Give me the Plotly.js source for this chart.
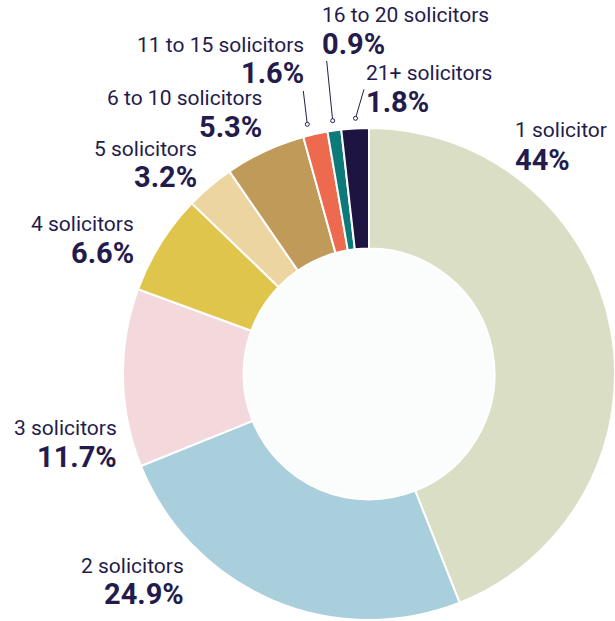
<!DOCTYPE html>
<html>
<head>
<meta charset="utf-8">
<script src="https://cdn.plot.ly/plotly-3.0.1.min.js"></script>
<style>html,body{margin:0;padding:0;background:#fff}#chart{width:615px;height:621px}</style>
</head>
<body>
<div id="chart"></div>
<script>
// ---- data ----
const categories = ["1 solicitor","2 solicitors","3 solicitors","4 solicitors","5 solicitors","6 to 10 solicitors","11 to 15 solicitors","16 to 20 solicitors","21+ solicitors"];
const shares = [44, 24.9, 11.7, 6.6, 3.2, 5.3, 1.6, 0.9, 1.8];
const sliceColors = ["#dadec4","#a9cedc","#f3d8dc","#e0c54d","#ecd5a1","#c09a58","#ee6a4e","#0d7a7a","#1e1442"];

// ---- label layout (pixel positions: anchor x, side, name baseline, value baseline) ----
const W = 615, H = 621;
const labelPos = [
  {x:516, a:"left",  b1:138, b2:170},
  {x:183, a:"right", b1:574, b2:604},
  {x:116, a:"right", b1:436, b2:467},
  {x:133, a:"right", b1:232, b2:263},
  {x:196, a:"right", b1:157, b2:187},
  {x:261, a:"right", b1:106, b2:137},
  {x:303, a:"right", b1:53,  b2:83},
  {x:323, a:"left",  b1:23,  b2:54},
  {x:367, a:"left",  b1:81,  b2:112}
];
const leaders = [
  {i:6, x0:303.3, y0:91, x1:307.3, y1:124.3},
  {i:7, x0:326.7, y0:61, x1:332.7, y1:120.7},
  {i:8, x0:364,   y0:89.3, x1:355.5, y1:118.3}
];

const textColor = "#241b4d";
const fName = 21, fVal = 29;
const pad = 3;
const px = v => v / W;
const py = v => 1 - v / H;

const annotations = [];
categories.forEach((c, i) => {
  const p = labelPos[i];
  const ax = p.a === "left" ? p.x - pad : p.x + pad;
  annotations.push({
    xref:"paper", yref:"paper", x:px(ax), y:py(p.b1 - 0.36*fName),
    xanchor:p.a, yanchor:"middle", showarrow:false, text:c,
    font:{family:"Roboto, sans-serif", size:fName, color:textColor}
  });
  annotations.push({
    xref:"paper", yref:"paper", x:px(ax), y:py(p.b2 - 0.36*fVal),
    xanchor:p.a, yanchor:"middle", showarrow:false, text:"<b>" + shares[i] + "%</b>",
    font:{family:"Roboto, sans-serif", size:fVal, color:textColor}
  });
});

const shapes = [];
// hole tint
shapes.push({type:"circle", xref:"paper", yref:"paper", layer:"below",
  x0:px(369-126), x1:px(369+126), y0:py(374+126), y1:py(374-126),
  fillcolor:"#fbfcfc", line:{width:0}});
leaders.forEach(l => {
  shapes.push({type:"line", xref:"paper", yref:"paper",
    x0:px(l.x0), y0:py(l.y0), x1:px(l.x1), y1:py(l.y1),
    line:{color:textColor, width:1}});
  shapes.push({type:"circle", xref:"paper", yref:"paper",
    x0:px(l.x1-2), x1:px(l.x1+2), y0:py(l.y1+2), y1:py(l.y1-2),
    fillcolor:"#ffffff", line:{color:textColor, width:1}});
});

const trace = {
  type:"pie",
  labels:categories,
  values:shares,
  sort:false,
  direction:"clockwise",
  rotation:0,
  hole:0.51,
  textinfo:"none",
  hoverinfo:"label+percent",
  marker:{colors:sliceColors, line:{color:"#ffffff", width:2}},
  domain:{x:[0.2, 1.0], y:[0, 0.7955]},
  showlegend:false
};

const layout = {
  width:W, height:H,
  margin:{l:0, r:0, t:0, b:0},
  paper_bgcolor:"#ffffff",
  plot_bgcolor:"#ffffff",
  showlegend:false,
  annotations:annotations,
  shapes:shapes
};

Plotly.newPlot("chart", [trace], layout, {displayModeBar:false, staticPlot:true});
</script>
</body>
</html>
